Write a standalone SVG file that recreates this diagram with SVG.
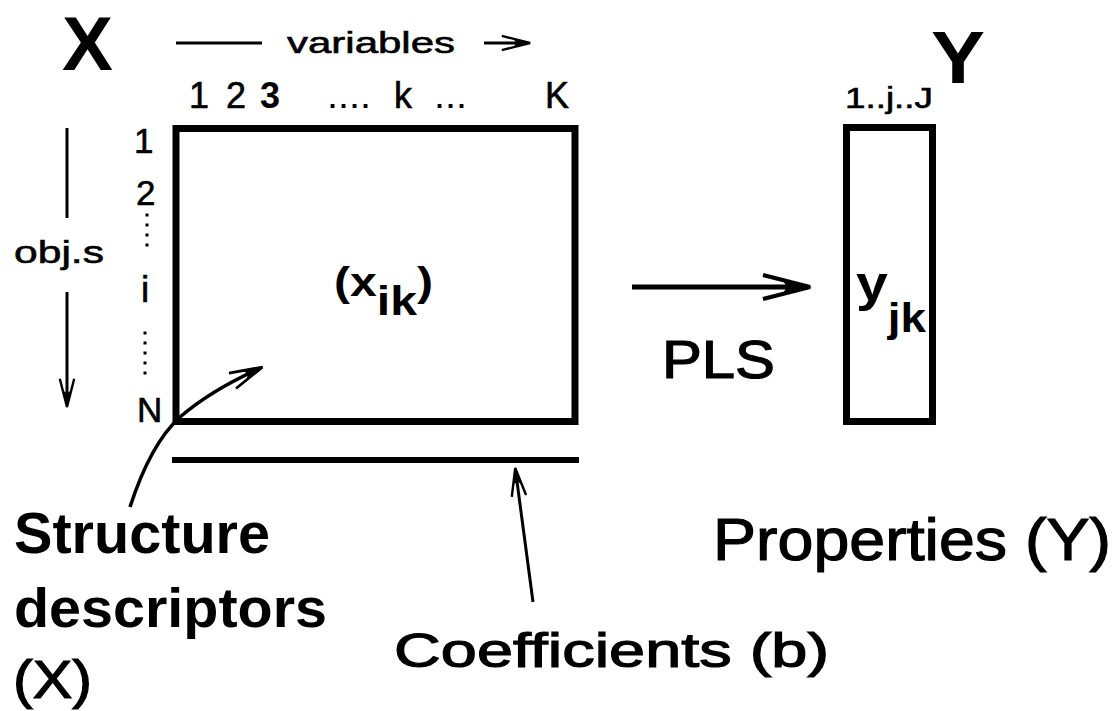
<svg xmlns="http://www.w3.org/2000/svg" width="1112" height="711" viewBox="0 0 1112 711">
<style>
text { font-family: "Liberation Sans", Arial, sans-serif; fill: #000; }
.b { font-weight: bold; }
.h { stroke: #000; stroke-width: 1.2; }
.m { stroke: #000; stroke-width: 0.6; }
.ln { stroke: #000; fill: none; stroke-linecap: butt; }
.box { stroke: #000; fill: #fff; }
.dots { stroke: #000; stroke-width: 3; stroke-dasharray: 3 7; fill: none; }
</style>
<defs>
<marker id="ah" viewBox="-10 -3 11 6" refX="-2" refY="0" markerWidth="11" markerHeight="6" orient="auto" markerUnits="strokeWidth" overflow="visible">
<path d="M-9.4,-2.4 L0,0 L-9.4,2.4" fill="none" stroke="#000" stroke-width="0.8" stroke-linejoin="miter"/>
<path d="M0.4,0 L-5.5,-1.4 L-4.6,0 L-5.5,1.4 Z" fill="#000"/>
</marker>
</defs>
<rect x="0" y="0" width="1112" height="711" fill="#fff"/>

<g id="x-matrix">
<rect class="box" x="176" y="128.5" width="399" height="293" stroke-width="7"/>
<text class="b" x="334" y="296" font-size="40" textLength="99" lengthAdjust="spacingAndGlyphs">(x<tspan dy="19">ik</tspan><tspan dy="-19">)</tspan></text>
</g>

<g id="x-title">
<text class="b" x="62" y="70" font-size="76" textLength="51" lengthAdjust="spacingAndGlyphs">X</text>
</g>

<g id="variables-label">
<line class="ln" x1="176" y1="43" x2="262" y2="43" stroke-width="3"/>
<text class="m" x="287" y="53" font-size="30" textLength="168" lengthAdjust="spacingAndGlyphs">variables</text>
</g>

<g id="column-labels">
<text class="m" x="189" y="108" font-size="36">1</text>
<text class="m" x="226" y="108" font-size="36">2</text>
<text class="b" x="260" y="108" font-size="36">3</text>
<text x="327" y="108" font-size="36" textLength="44" lengthAdjust="spacingAndGlyphs">....</text>
<text class="m" x="394" y="108" font-size="36">k</text>
<text x="434" y="108" font-size="36" textLength="33" lengthAdjust="spacingAndGlyphs">...</text>
<text class="m" x="545" y="108" font-size="36">K</text>
</g>

<g id="row-labels">
<text class="m" x="134" y="153" font-size="35">1</text>
<text class="m" x="136" y="205" font-size="35">2</text>
<line class="dots" x1="147" y1="213.5" x2="147" y2="247"/>
<text class="m" x="141" y="302" font-size="37">i</text>
<line class="dots" x1="145" y1="331.5" x2="145" y2="375"/>
<text class="m" x="137" y="422" font-size="35">N</text>
</g>

<g id="objs-label">
<text class="m" x="14" y="263" font-size="32" textLength="90" lengthAdjust="spacingAndGlyphs">obj.s</text>
</g>

<g id="coefficients-bar">
<line class="ln" x1="172" y1="460" x2="579" y2="460" stroke-width="6"/>
</g>

<g id="y-matrix">
<rect class="box" x="846.5" y="127.5" width="86" height="294" stroke-width="7"/>
<text class="b" x="856" y="301" font-size="50" textLength="70" lengthAdjust="spacingAndGlyphs">y<tspan font-size="40" dy="31">jk</tspan></text>
</g>

<g id="y-title">
<text class="b" x="931" y="83" font-size="74" textLength="54" lengthAdjust="spacingAndGlyphs">Y</text>
<text class="m" x="845" y="108" font-size="29" textLength="88" lengthAdjust="spacingAndGlyphs">1..j..J</text>
</g>

<g id="pls-label">
<text class="h" x="662" y="378" font-size="53" textLength="113" lengthAdjust="spacingAndGlyphs">PLS</text>
</g>

<g id="structure-label">
<text class="b" x="14" y="553" font-size="57" textLength="256" lengthAdjust="spacingAndGlyphs">Structure</text>
<text class="b" x="14" y="627" font-size="56" textLength="313" lengthAdjust="spacingAndGlyphs">descriptors</text>
<text class="h" x="13" y="698" font-size="53" textLength="79" lengthAdjust="spacingAndGlyphs">(X)</text>
</g>

<g id="coefficients-label">
<text class="h" x="394" y="667" font-size="49" textLength="435" lengthAdjust="spacingAndGlyphs">Coefficients (b)</text>
</g>

<g id="properties-label">
<text class="h" x="713" y="560" font-size="60" textLength="398" lengthAdjust="spacingAndGlyphs">Properties (Y)</text>
</g>

<g id="connectors">
<line class="ln" x1="484" y1="43" x2="524" y2="43" stroke-width="3" marker-end="url(#ah)"/>
<line class="ln" x1="67" y1="128" x2="67" y2="218" stroke-width="3"/>
<line class="ln" x1="67" y1="292" x2="67" y2="401" stroke-width="3" marker-end="url(#ah)"/>
<line class="ln" x1="632" y1="287" x2="800" y2="287" stroke-width="5" marker-end="url(#ah)"/>
<path class="ln" d="M130,507 C142,470 158,437 180,417 C203,397 230,382 256,370" stroke-width="3.5" marker-end="url(#ah)"/>
<line class="ln" x1="533" y1="602" x2="516" y2="474" stroke-width="3" marker-end="url(#ah)"/>
</g>
</svg>
